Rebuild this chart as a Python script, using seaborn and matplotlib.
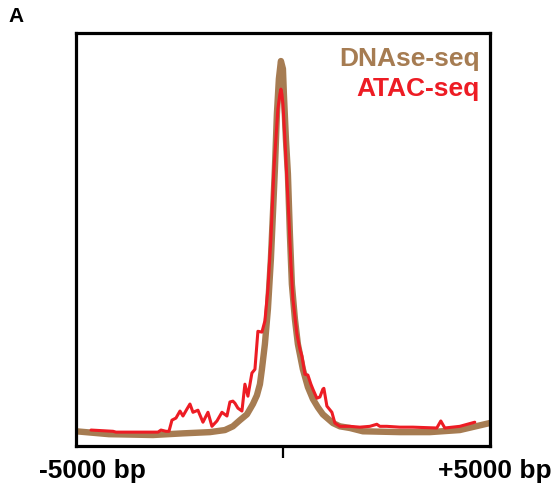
import matplotlib
matplotlib.use("Agg")
import matplotlib.pyplot as plt
import matplotlib.transforms as mtransforms
import seaborn as sns
import numpy as np

# DNase-seq profile (bp from centre, signal)
dnase_bp = [-5000, -4203, -3140, -2416, -1764, -1402, -1209, -1039, -870, -725, -629, -556,
            -508, -436, -363, -291, -242, -194, -146, -98, -49, 0, 23, 72, 120, 168, 216,
            289, 361, 482, 603, 724, 844, 965, 1207, 1376, 1617, 1931, 2825, 3549, 4274, 5000]
dnase_sig = [3.6, 2.9, 2.7, 3.1, 3.4, 3.9, 4.8, 6.3, 7.7, 10.2, 12.3, 15.0,
             18.6, 24.7, 33.2, 45.3, 56.2, 67.1, 80.4, 88.9, 93.2, 91.3, 85.2, 74.3, 65.9, 51.3, 39.2,
             30.8, 24.7, 18.6, 14.3, 11.4, 9.4, 7.7, 5.6, 4.8, 4.4, 3.6, 3.4, 3.4, 3.9, 5.6]

# ATAC-seq profile
atac_bp = [-4638, -4106, -4034, -3575, -3020, -2947, -2827, -2754, -2682, -2585, -2488,
           -2416, -2319, -2247, -2174, -2054, -1933, -1812, -1716, -1595, -1474, -1353,
           -1281, -1209, -1160, -1088, -991, -919, -846, -750, -677, -605, -508, -436,
           -363, -291, -218, -170, -122, -74, -49, -25, 0, 48, 96, 145, 193, 241, 338,
           410, 458, 531, 603, 676, 724, 820, 893, 965, 989, 1062, 1183, 1255, 1376,
           1617, 1859, 2100, 2269, 2342, 2511, 2825, 3139, 3718, 3815, 3912, 4274, 4636]
atac_sig = [3.9, 3.6, 3.4, 3.4, 3.4, 3.9, 3.6, 3.6, 6.3, 6.8, 8.5,
            7.3, 9.0, 10.2, 8.2, 8.7, 5.8, 8.2, 4.8, 6.1, 8.2, 7.3,
            10.7, 10.9, 10.4, 9.2, 8.5, 15.0, 12.1, 17.7, 18.6, 27.8, 27.6, 30.3,
            38.0, 50.1, 67.1, 74.3, 81.6, 85.2, 86.4, 85.2, 82.8, 74.3, 64.6, 55.0, 44.1, 35.6, 27.1,
            23.5, 21.8, 17.4, 17.2, 15.0, 13.8, 11.6, 11.9, 13.8, 14.0, 9.7, 8.2, 5.6, 4.8,
            4.8, 4.6, 4.8, 5.3, 4.8, 4.8, 4.6, 4.6, 4.4, 6.1, 4.4, 4.8, 5.8]

brown = "#A67C52"
red = "#ED1C24"

sns.set_theme(style="white")
plt.rcParams["font.family"] = ["Liberation Sans", "DejaVu Sans"]

fig = plt.figure(figsize=(5.51, 4.85), dpi=100)
ax = fig.add_axes([0.138, 0.078, 0.751, 0.852])

sns.lineplot(x=dnase_bp, y=dnase_sig, ax=ax, color=brown, linewidth=4.6,
             solid_capstyle="round", solid_joinstyle="round")
sns.lineplot(x=atac_bp, y=atac_sig, ax=ax, color=red, linewidth=2.2,
             solid_joinstyle="round")

ax.set_xlim(-5000, 5000)
ax.set_ylim(0, 100)
ax.set_yticks([])
ax.set_xticks([0])
ax.set_xticklabels([""])
ax.tick_params(axis="x", direction="out", length=8.5, width=1.6, color="black", bottom=True)
for sp in ax.spines.values():
    sp.set_visible(True)
    sp.set_color("black")
    sp.set_linewidth(2.3)

trans = mtransforms.blended_transform_factory(ax.transData, ax.transAxes)
ax.text(-4614, -0.057, "-5000 bp", transform=trans, ha="center", va="center",
        fontsize=19, fontweight="bold", color="black")
ax.text(5120, -0.057, "+5000 bp", transform=trans, ha="center", va="center",
        fontsize=19, fontweight="bold", color="black")

ax.text(0.975, 0.94, "DNAse-seq", transform=ax.transAxes, ha="right", va="center",
        fontsize=19, fontweight="bold", color=brown)
ax.text(0.975, 0.867, "ATAC-seq", transform=ax.transAxes, ha="right", va="center",
        fontsize=19, fontweight="bold", color=red)

fig.text(0.015, 0.965, "A", ha="left", va="center", fontsize=15, fontweight="bold",
         color="black")

fig.savefig("out.png", dpi=100)
